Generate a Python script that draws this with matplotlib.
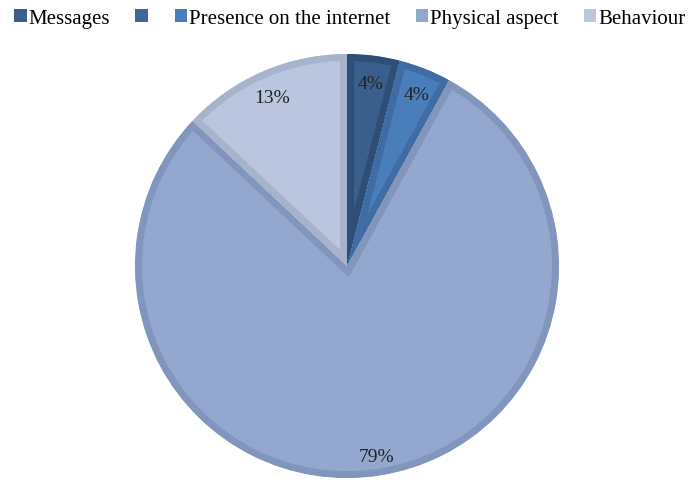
import matplotlib.pyplot as plt
from matplotlib.patches import Rectangle

# legend has an extra unlabeled entry (0 share) between Messages and Presence
labels = ["Messages", "", "Presence on the internet", "Physical aspect", "Behaviour"]
shares = [4, 0, 4, 79, 13]
fill_colors = ["#3a5f8d", "#3d6699", "#4a7ebb", "#94a8cf", "#bac6df"]
edge_colors = ["#2f4e75", "#33557f", "#3f6ca4", "#8296bd", "#a7b3ca"]

plt.rcParams["font.family"] = ["Liberation Serif", "DejaVu Serif"]

fig = plt.figure(figsize=(6.89, 4.81), dpi=100)
ax = fig.add_axes([135 / 689, 2 / 481, 424 / 689, 424 / 481])

keep = [i for i, v in enumerate(shares) if v > 0]
wedges, _, pct_texts = ax.pie(
    [shares[i] for i in keep],
    colors=[fill_colors[i] for i in keep],
    startangle=90,
    counterclock=False,
    autopct="%d%%",
    pctdistance=0.89,
    radius=1.0,
    textprops={"fontsize": 14, "color": "#222222"},
)
for w, i in zip(wedges, keep):
    # inner border: wide stroke clipped to the wedge's own outline
    # (pie turns clipping off, so switch it back on)
    w.set_edgecolor(edge_colors[i])
    w.set_linewidth(10)
    w.set_clip_on(True)
    w.set_clip_path(w.get_path(), w.get_transform())
for t in pct_texts:
    # labels sit slightly lower in the original
    x, y = t.get_position()
    t.set_position((x, y - 0.02))
ax.set_xlim(-1, 1)
ax.set_ylim(-1, 1)

handles = [Rectangle((0, 0), 1, 1, facecolor=c, edgecolor="none") for c in fill_colors]
fig.legend(
    handles, labels,
    loc="upper left",
    bbox_to_anchor=(10 / 689, 1.0 - 6 / 481),
    ncol=5,
    frameon=False,
    fontsize=15,
    handlelength=0.6,
    handleheight=0.6,
    handletextpad=0.1,
    columnspacing=1.2,
    borderaxespad=0.0,
    borderpad=0.2,
)

fig.savefig("out.png", dpi=100)
